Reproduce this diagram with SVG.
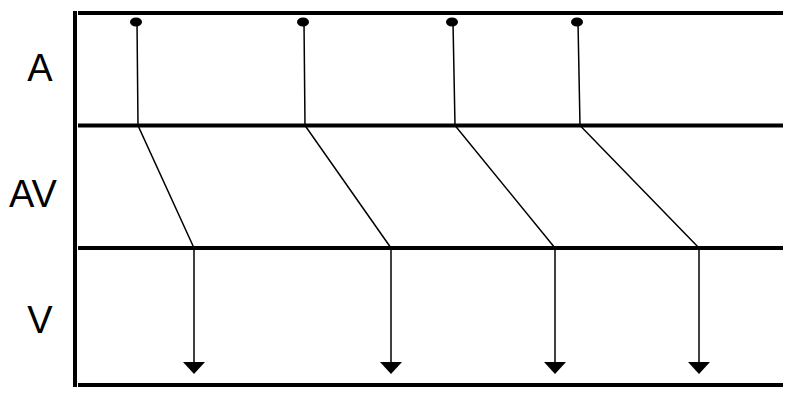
<svg xmlns="http://www.w3.org/2000/svg" width="800" height="404" viewBox="0 0 800 404">
<defs>
<style>
.rail{stroke:#000;stroke-width:4;fill:none}
.c{stroke:#000;stroke-width:1.5;fill:none}
.dot{fill:#000}
.lbl{font-family:"Liberation Sans",Arial,sans-serif;font-size:38px;fill:#000}
</style>
</defs>
<rect width="800" height="404" fill="#fff"/>
<g id="frame">
<line class="rail" x1="75" y1="11" x2="75" y2="387"/>
<line class="rail" x1="78" y1="13" x2="783" y2="13"/>
<line class="rail" x1="78" y1="125.5" x2="783" y2="125.5"/>
<line class="rail" x1="78" y1="248" x2="783" y2="248"/>
<line class="rail" x1="78" y1="385" x2="783" y2="385"/>
</g>
<g id="labels">
<text id="label-A" class="lbl" x="40" y="81" text-anchor="middle">A</text>
<text id="label-AV" class="lbl" x="33" y="207" text-anchor="middle">AV</text>
<text id="label-V" class="lbl" x="40" y="333" text-anchor="middle">V</text>
</g>
<g id="node-1"><ellipse class="dot" cx="136" cy="22" rx="6" ry="4.5"/></g>
<g id="node-2"><ellipse class="dot" cx="303" cy="22" rx="6" ry="4.5"/></g>
<g id="node-3"><ellipse class="dot" cx="452" cy="22" rx="6" ry="4.5"/></g>
<g id="node-4"><ellipse class="dot" cx="577" cy="22" rx="6" ry="4.5"/></g>
<g id="connectors">
<polyline class="c" points="137,22 138,125.5 194,248"/>
<line class="c" x1="194" y1="248" x2="194" y2="364"/>
<path d="M183,362 L205,362 L194,374 Z" class="dot"/>
<polyline class="c" points="304,22 305,125.5 391,248"/>
<line class="c" x1="391" y1="248" x2="391" y2="364"/>
<path d="M380,362 L402,362 L391,374 Z" class="dot"/>
<polyline class="c" points="453,22 455,125.5 555,248"/>
<line class="c" x1="555" y1="248" x2="555" y2="364"/>
<path d="M544,362 L566,362 L555,374 Z" class="dot"/>
<polyline class="c" points="578,22 580,125.5 699,248"/>
<line class="c" x1="699" y1="248" x2="699" y2="364"/>
<path d="M688,362 L710,362 L699,374 Z" class="dot"/>
</g>
</svg>
